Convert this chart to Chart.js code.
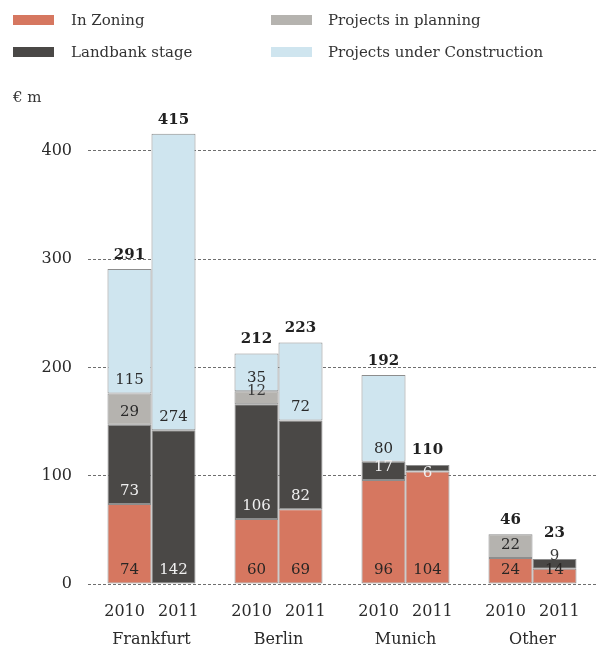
<!DOCTYPE html>
<html>
<head>
<meta charset="utf-8">
<script src="https://cdn.jsdelivr.net/npm/chart.js@4.4.1/dist/chart.umd.min.js"></script>
<style>
  html, body { margin: 0; padding: 0; background: #fff; }
  #wrap { width: 608px; height: 650px; }
</style>
</head>
<body>
<div id="wrap"><canvas id="myChart"></canvas></div>
<script>
// categories and years
var cities = ['Frankfurt', 'Berlin', 'Munich', 'Other'];
var years = ['2010', '2011'];

// segment values, one per city
var zoning2010 = [74, 60, 96, 24];
var zoning2011 = [0, 69, 104, 14];
var landbank2010 = [73, 106, 17, 0];
var landbank2011 = [142, 82, 6, 9];
var planning2010 = [29, 12, 0, 22];
var planning2011 = [0, 0, 0, 0];
var construction2010 = [115, 35, 80, 0];
var construction2011 = [274, 72, 0, 0];

// totals printed over the bars
var totals2010 = [291, 212, 192, 46];
var totals2011 = [415, 223, 110, 23];

var yTicks = [0, 100, 200, 300, 400];

var seriesNames = ['In Zoning', 'Landbank stage', 'Projects in planning', 'Projects under Construction'];
var seriesColors = ['#d67760', '#4a4846', '#b5b3af', '#cfe5ef'];
var labelColors = ['#2a2624', '#f0f0f0', '#2a2a2a', '#2a2a2a'];

var values2010 = [zoning2010, landbank2010, planning2010, construction2010];
var values2011 = [zoning2011, landbank2011, planning2011, construction2011];

var FONT = '"DejaVu Serif", serif';

var datasets = [];
for (var s = 0; s < seriesNames.length; s++) {
    datasets.push({
        label: seriesNames[s],
        data: values2010[s],
        stack: '2010',
        backgroundColor: seriesColors[s],
        borderColor: '#8d8d8d',
        borderWidth: 1,
        borderSkipped: false,
        series: s
    });
    datasets.push({
        label: seriesNames[s],
        data: values2011[s],
        stack: '2011',
        backgroundColor: seriesColors[s],
        borderColor: '#8d8d8d',
        borderWidth: 1,
        borderSkipped: false,
        series: s
    });
}

// legend in two columns + the unit label
var legendPlugin = {
    id: 'twoColLegend',
    afterDraw: function (chart) {
        var ctx = chart.ctx;
        ctx.save();
        ctx.font = '15px ' + FONT;
        ctx.textBaseline = 'middle';
        ctx.textAlign = 'left';
        for (var s = 0; s < seriesNames.length; s++) {
            var col = Math.floor(s / 2), row = s % 2;
            var bx = col === 0 ? 13 : 271;
            var tx = col === 0 ? 71 : 328;
            var y = row === 0 ? 15 : 47;
            ctx.fillStyle = seriesColors[s];
            ctx.fillRect(bx, y, 41, 10);
            ctx.fillStyle = '#333';
            ctx.fillText(seriesNames[s], tx, y + 6);
        }
        ctx.fillText('\u20ac m', 13, 98);
        ctx.restore();
    }
};

// numbers inside the segments and totals above
var valuePlugin = {
    id: 'valueLabels',
    afterDatasetsDraw: function (chart) {
        var ctx = chart.ctx;
        ctx.save();
        ctx.textAlign = 'center';
        ctx.textBaseline = 'middle';
        var tops = {};
        chart.data.datasets.forEach(function (ds, i) {
            var meta = chart.getDatasetMeta(i);
            meta.data.forEach(function (el, j) {
                var v = ds.data[j];
                if (!v) return;
                var h = el.base - el.y;
                var y, color = labelColors[ds.series];
                if (h < 9) {
                    y = el.y + 8;
                } else if (h < 14) {
                    y = el.base - 13;
                    color = '#3a3a3a';
                } else {
                    y = el.base - 13;
                }
                ctx.font = '15px ' + FONT;
                ctx.fillStyle = color;
                ctx.fillText(String(v), el.x, y);
                var key = ds.stack + '_' + j;
                var t = tops[key];
                if (!t) t = tops[key] = { x: el.x, top: el.y, lab: y };
                t.top = Math.min(t.top, el.y);
                t.lab = Math.min(t.lab, y);
            });
        });
        ctx.font = 'bold 15px ' + FONT;
        ctx.fillStyle = '#222';
        for (var j = 0; j < cities.length; j++) {
            [['2010', totals2010], ['2011', totals2011]].forEach(function (p) {
                var t = tops[p[0] + '_' + j];
                if (!t) return;
                var y = Math.min(t.top - 14, t.lab - 23);
                ctx.fillText(String(p[1][j]), t.x, y);
            });
        }
        ctx.restore();
    }
};

var ctx = document.getElementById('myChart').getContext('2d');
var myChart = new Chart(ctx, {
    type: 'bar',
    data: {
        labels: cities.map(function (c) { return [years[0] + '\u2002 ' + years[1], c]; }),
        datasets: datasets
    },
    options: {
        responsive: true,
        maintainAspectRatio: false,
        animation: false,
        categoryPercentage: 0.693,
        barPercentage: 1.0,
        layout: { padding: { top: 86, right: 12, left: 0, bottom: 0 } },
        plugins: {
            legend: { display: false },
            tooltip: { enabled: false }
        },
        scales: {
            x: {
                stacked: true,
                afterFit: function (scale) { scale.height = 66; },
                grid: { display: false, drawTicks: false },
                border: { display: false },
                ticks: {
                    color: '#2a2a2a',
                    padding: 14,
                    font: { family: FONT, size: 16, lineHeight: 1.75 }
                }
            },
            y: {
                stacked: true,
                min: 0,
                max: 460,
                afterFit: function (scale) { scale.width = 88; },
                afterBuildTicks: function (scale) {
                    scale.ticks = yTicks.map(function (v) { return { value: v }; });
                },
                grid: { color: '#6e6e6e', lineWidth: 1, drawTicks: false },
                border: { display: false, dash: [3, 2] },
                ticks: {
                    color: '#2a2a2a',
                    padding: 16,
                    font: { family: FONT, size: 16 }
                }
            }
        }
    },
    plugins: [legendPlugin, valuePlugin]
});
</script>
</body>
</html>
